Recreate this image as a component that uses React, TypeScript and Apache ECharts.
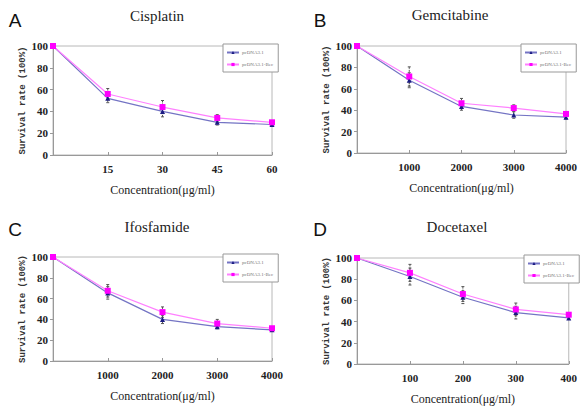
import React, { useEffect, useRef } from "react";
import * as echarts from "echarts";

const seriesNames = ["pcDNA3.1", "pcDNA3.1-Bec"];
const panelLetters = ["A", "B", "C", "D"];
const panelTitles = ["Cisplatin", "Gemcitabine", "Ifosfamide", "Docetaxel"];
const xAxisTitle = "Concentration(\u03bcg/ml)";
const yAxisTitle = "Survival rate (100%)";

const concA = [0, 15, 30, 45, 60];
const concB = [0, 1000, 2000, 3000, 4000];
const concC = [0, 1000, 2000, 3000, 4000];
const concD = [0, 100, 200, 300, 400];

const ctrlA = [100, 52, 40, 30, 28];
const becA = [100, 56, 44, 34, 30];
const ctrlErrA = [0, 4, 5, 2.5, 1];
const becErrA = [0, 5, 6, 3, 1];

const ctrlB = [100, 68, 43.5, 35.5, 33.5];
const becB = [100, 71.5, 46.5, 42, 36.5];
const ctrlErrB = [0, 7, 3.5, 3, 1.5];
const becErrB = [0, 9, 4.5, 3, 1.5];

const ctrlC = [100, 65.5, 40, 33, 30];
const becC = [100, 67.5, 47, 36, 31.5];
const ctrlErrC = [0, 6, 4, 2, 1.5];
const becErrC = [0, 6, 5, 4, 1.5];

const ctrlD = [100, 82.5, 63, 48.5, 43.5];
const becD = [100, 86, 66, 51.5, 46.5];
const ctrlErrD = [0, 8, 6, 6, 1.5];
const becErrD = [0, 8, 7, 6, 1.5];

const panels = [
  { x: concA, ctrl: ctrlA, bec: becA, ce: ctrlErrA, be: becErrA, max: 60, interval: 15 },
  { x: concB, ctrl: ctrlB, bec: becB, ce: ctrlErrB, be: becErrB, max: 4000, interval: 1000 },
  { x: concC, ctrl: ctrlC, bec: becC, ce: ctrlErrC, be: becErrC, max: 4000, interval: 1000 },
  { x: concD, ctrl: ctrlD, bec: becD, ce: ctrlErrD, be: becErrD, max: 400, interval: 100 },
];

const grids = [
  { left: 53, top: 46, width: 219, height: 109 },
  { left: 357, top: 46, width: 213, height: 107 },
  { left: 53, top: 257, width: 219, height: 104 },
  { left: 357, top: 258, width: 216, height: 106 },
];
const letterPos = [
  [15, 20],
  [320, 20],
  [15, 229],
  [320, 229],
];
const titlePos = [
  [157, 16],
  [450, 15],
  [157, 227],
  [457, 227],
];
const legendPos = [
  [223, 44],
  [521, 44],
  [223, 254],
  [524, 255],
];

const CTRL_LINE = "#7474c4";
const CTRL_MARK = "#1b1b82";
const BEC_LINE = "#ff80ff";
const BEC_MARK = "#ff00ff";
const SERIF = "Liberation Serif";
const MONO = "Liberation Mono";

function errRender(params: any, api: any) {
  const x = api.value(0);
  const y = api.value(1);
  const e = api.value(2);
  if (!e) return null;
  const top = api.coord([x, y + e]);
  const bot = api.coord([x, y - e]);
  const style = { stroke: "#555", lineWidth: 1, lineDash: [2, 1] };
  return {
    type: "group",
    children: [
      { type: "line", shape: { x1: top[0], y1: top[1], x2: bot[0], y2: bot[1] }, style },
      { type: "line", shape: { x1: top[0] - 1.5, y1: top[1], x2: top[0] + 1.5, y2: top[1] }, style: { stroke: "#555", lineWidth: 1 } },
      { type: "line", shape: { x1: bot[0] - 1.5, y1: bot[1], x2: bot[0] + 1.5, y2: bot[1] }, style: { stroke: "#555", lineWidth: 1 } },
    ],
  };
}

export default function App() {
  const ref = useRef<HTMLDivElement>(null);
  useEffect(() => {
    document.body.style.margin = "0";
    const chart = echarts.init(ref.current!, null, { renderer: "svg" });
    const series: any[] = [];
    panels.forEach((p, i) => {
      series.push({
        type: "custom",
        name: "err-ctrl-" + i,
        xAxisIndex: i,
        yAxisIndex: i,
        renderItem: errRender,
        data: p.x.map((v, k) => [v, p.ctrl[k], p.ce[k]]),
        z: 1,
      });
      series.push({
        type: "custom",
        name: "err-bec-" + i,
        xAxisIndex: i,
        yAxisIndex: i,
        renderItem: errRender,
        data: p.x.map((v, k) => [v, p.bec[k], p.be[k]]),
        z: 1,
      });
      series.push({
        type: "line",
        name: seriesNames[0],
        xAxisIndex: i,
        yAxisIndex: i,
        data: p.x.map((v, k) => [v, p.ctrl[k]]),
        symbol: "triangle",
        symbolSize: 5,
        lineStyle: { color: CTRL_LINE, width: 1.2 },
        itemStyle: { color: CTRL_MARK },
        z: 2,
      });
      series.push({
        type: "line",
        name: seriesNames[1],
        xAxisIndex: i,
        yAxisIndex: i,
        data: p.x.map((v, k) => [v, p.bec[k]]),
        symbol: "rect",
        symbolSize: 6,
        lineStyle: { color: BEC_LINE, width: 1.2 },
        itemStyle: { color: BEC_MARK },
        z: 3,
      });
    });

    const option: any = {
      animation: false,
      backgroundColor: "#fff",
      textStyle: { fontFamily: SERIF },
      grid: grids.map((g) => ({ ...g, show: true, borderColor: "#b8b8b8", borderWidth: 1, backgroundColor: "transparent" })),
      xAxis: panels.map((p, i) => ({
        type: "value",
        gridIndex: i,
        min: 0,
        max: p.max,
        interval: p.interval,
        name: xAxisTitle,
        nameLocation: "middle",
        nameGap: 29,
        nameTextStyle: { fontFamily: SERIF, fontSize: 12, color: "#222" },
        axisLine: { lineStyle: { color: "#999" } },
        axisTick: { inside: true, length: 3, lineStyle: { color: "#999" } },
        splitLine: { show: false },
        axisLabel: {
          margin: 8,
          fontFamily: SERIF,
          fontWeight: "bold",
          fontSize: 11,
          color: "#222",
          formatter: (v: number) => (v === 0 ? "" : String(v)),
        },
      })),
      yAxis: panels.map((p, i) => ({
        type: "value",
        gridIndex: i,
        min: 0,
        max: 100,
        interval: 20,
        name: yAxisTitle,
        nameLocation: "middle",
        nameGap: 25,
        nameTextStyle: { fontFamily: MONO, fontWeight: "bold", fontSize: 9, color: "#333" },
        axisLine: { show: true, lineStyle: { color: "#999" } },
        axisTick: { show: true, length: 3, lineStyle: { color: "#999" } },
        splitLine: { show: false },
        axisLabel: {
          margin: 5,
          fontFamily: SERIF,
          fontWeight: "bold",
          fontSize: 11,
          color: "#222",
          formatter: (v: number) => String(v),
        },
      })),
      legend: legendPos.map((lp) => ({
        data: seriesNames,
        orient: "vertical",
        left: lp[0],
        top: lp[1],
        itemWidth: 12,
        itemHeight: 4,
        itemGap: 7,
        padding: [6, 5, 5, 3],
        borderColor: "#999",
        borderWidth: 1,
        backgroundColor: "#fff",
        selectedMode: false,
        textStyle: { fontSize: 5, color: "#777", fontFamily: SERIF, padding: [0, 0, 0, -2] },
      })),
      graphic: [
        ...panelLetters.map((t, i) => ({
          type: "text",
          x: letterPos[i][0],
          y: letterPos[i][1],
          style: {
            text: t,
            fontFamily: "Liberation Sans",
            fontSize: 19,
            fill: "#111",
            textAlign: "center",
            textVerticalAlign: "middle",
          },
        })),
        ...panelTitles.map((t, i) => ({
          type: "text",
          x: titlePos[i][0],
          y: titlePos[i][1],
          style: {
            text: t,
            fontFamily: SERIF,
            fontSize: 15,
            fill: "#222",
            textAlign: "center",
            textVerticalAlign: "middle",
          },
        })),
      ],
      series,
    };
    chart.setOption(option);
    return () => chart.dispose();
  }, []);
  return <div ref={ref} style={{ position: "fixed", left: 0, top: 0, width: 580, height: 407 }} />;
}
